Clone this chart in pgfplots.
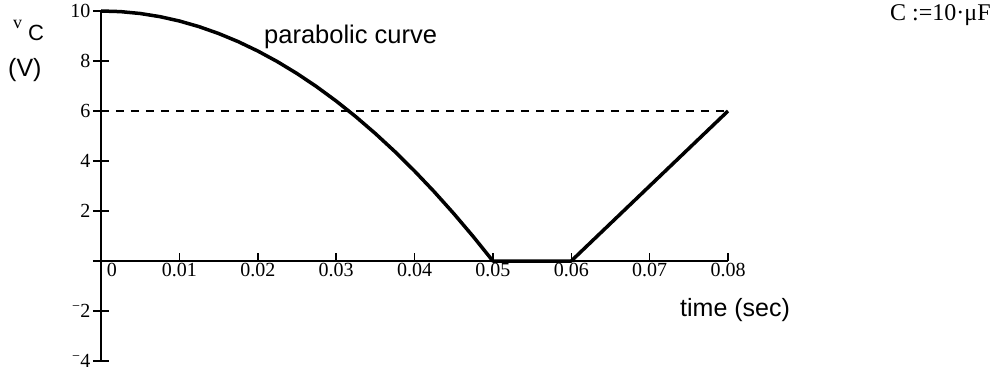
\documentclass[border=0pt]{standalone}
\usepackage{pgfplots}
\pgfplotsset{compat=1.18}
\usepackage{fontspec}
\setmainfont{Liberation Serif}
\newfontfamily\arial{Liberation Sans}
\begin{document}
\begin{tikzpicture}[x=1bp,y=1bp]
\path[use as bounding box] (-101,-12) rectangle (904,361);
\begin{axis}[
  at={(0,0)}, anchor=south west, scale only axis,
  width=627bp, height=350bp,
  xmin=0, xmax=0.08, ymin=-4, ymax=10,
  axis lines=middle,
  axis line style={-, line width=1.8bp},
  clip=false,
  hide obscured x ticks=false, hide obscured y ticks=false,
  scaled x ticks=false,
  ytick={-4,-2,0,2,4,6,8,10},
  yticklabels={\textsuperscript{−}4,\textsuperscript{−}2,,2,4,6,8,10},
  major tick length=16bp,
  tick align=center,
  y tick style={line width=1.8bp, black},
  xtick=\empty,
  extra x ticks={0,0.01,0.02,0.03,0.04,0.05,0.06,0.07,0.08},
  extra x tick labels={\makebox[0pt][l]{\hspace{6bp}0},0.01,0.02,0.03,0.04,0.05,0.06,0.07,0.08},
  extra x tick style={major tick length=8bp, tick align=inside, tick style={line width=1.5bp, black}},
  tick label style={font=\fontsize{20bp}{22bp}\selectfont},
  yticklabel style={anchor=east, xshift=1bp},
  xticklabel style={anchor=north, yshift=1bp},
]
\addplot[black, line width=1.3bp, dash pattern=on 8bp off 7bp] coordinates {(0,6) (0.08,6)};
\addplot[black, line width=3.5bp, line join=round] coordinates {
(0,10) (0.0025,9.975) (0.005,9.9) (0.0075,9.775) (0.01,9.6) (0.0125,9.375)
(0.015,9.1) (0.0175,8.775) (0.02,8.4) (0.0225,7.975) (0.025,7.5) (0.0275,6.975)
(0.03,6.4) (0.0325,5.775) (0.035,5.1) (0.0375,4.375) (0.04,3.6) (0.0425,2.775)
(0.045,1.9) (0.0475,0.975) (0.05,0) (0.06,0) (0.08,6)};
\end{axis}
\node[anchor=base west, inner sep=0pt, font=\fontsize{18bp}{20bp}\selectfont] at (-88,333) {v};
\node[anchor=base west, inner sep=0pt, font=\arial\fontsize{22bp}{24bp}\selectfont] at (-73,321) {C};
\node[anchor=base west, inner sep=0pt, font=\arial\fontsize{25bp}{28bp}\selectfont] at (-93,285) {(V)};
\node[anchor=base west, inner sep=0pt, font=\arial\fontsize{25.5bp}{28bp}\selectfont] at (163,318) {parabolic curve};
\node[anchor=base west, inner sep=0pt, font=\arial\fontsize{25bp}{28bp}\selectfont] at (579,45) {time (sec)};
\node[anchor=base west, inner sep=0pt, font=\fontsize{24bp}{26bp}\selectfont] at (789,341) {C :=10·μF};
\end{tikzpicture}
\end{document}
